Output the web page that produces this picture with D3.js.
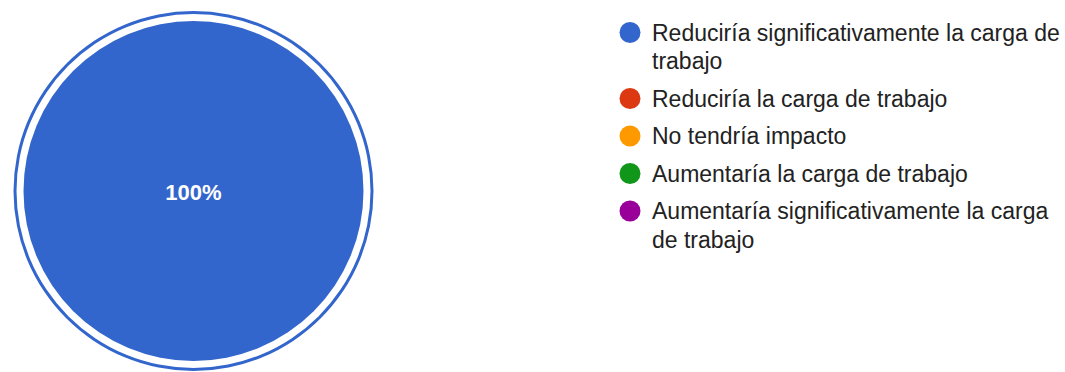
<!DOCTYPE html>
<html>
<head>
<meta charset="utf-8">
<script src="https://cdn.jsdelivr.net/npm/d3@7"></script>
<style>
  html, body { margin: 0; padding: 0; background: #fff; }
  svg { display: block; }
</style>
</head>
<body>
<svg id="chart" width="1065" height="372"></svg>
<script>
// Survey answers and their share of responses (percent)
const categories = [
  "Reduciría significativamente la carga de trabajo",
  "Reduciría la carga de trabajo",
  "No tendría impacto",
  "Aumentaría la carga de trabajo",
  "Aumentaría significativamente la carga de trabajo"
];
const shares = [100, 0, 0, 0, 0];
const palette = ["#3366cc", "#dc3912", "#ff9900", "#109618", "#990099"];

const svg = d3.select("#chart");
const font = "'Liberation Sans', Arial, sans-serif";

// Pie
const cx = 193.5, cy = 191, radius = 170;
const color = d3.scaleOrdinal().domain(categories).range(palette);
const pie = d3.pie().sort(null).value(d => d.value);
const slices = pie(categories.map((c, i) => ({ name: c, value: shares[i] })));
const arc = d3.arc().innerRadius(0).outerRadius(radius);
const ring = d3.arc().innerRadius(radius + 7).outerRadius(radius + 10);

const g = svg.append("g").attr("transform", `translate(${cx},${cy})`);
const shown = slices.filter(s => s.data.value > 0);

g.selectAll("path.slice")
  .data(shown)
  .join("path")
  .attr("class", "slice")
  .attr("d", arc)
  .attr("fill", d => color(d.data.name));

// highlight ring around the largest slice
const biggest = shown.reduce((a, b) => (b.data.value > a.data.value ? b : a));
g.append("path")
  .attr("d", ring(biggest))
  .attr("fill", color(biggest.data.name));

const total = d3.sum(shares);
g.selectAll("text.pct")
  .data(shown)
  .join("text")
  .attr("class", "pct")
  .attr("transform", d => {
    const full = d.endAngle - d.startAngle >= 2 * Math.PI - 1e-6;
    const [x, y] = full ? [0, 0] : d3.arc().innerRadius(0).outerRadius(radius * 1.2).centroid(d);
    return `translate(${x},${y})`;
  })
  .attr("text-anchor", "middle")
  .attr("dy", "0.4em")
  .attr("font-family", font)
  .attr("font-weight", "bold")
  .attr("font-size", 22)
  .attr("fill", "#ffffff")
  .text(d => d3.format(".0%")(d.data.value / total));

// Legend
const legend = svg.append("g").attr("transform", "translate(630,32.5)");
const fontSize = 23, lineH = 28.5, gap = 37.5, textX = 22, maxW = 412;

let yPos = 0;
categories.forEach((name, i) => {
  const item = legend.append("g").attr("transform", `translate(0,${yPos})`);
  item.append("circle").attr("r", 10.5).attr("fill", color(name));
  const text = item.append("text")
    .attr("x", textX)
    .attr("font-family", font)
    .attr("font-size", fontSize)
    .attr("fill", "#222222");
  // word wrap
  const words = name.split(" ");
  let line = [], lines = 0;
  let tspan = text.append("tspan").attr("x", textX).attr("y", 0).attr("dy", "0.36em");
  words.forEach(w => {
    line.push(w);
    tspan.text(line.join(" "));
    if (tspan.node().getComputedTextLength() > maxW && line.length > 1) {
      line.pop();
      tspan.text(line.join(" "));
      line = [w];
      lines++;
      tspan = text.append("tspan").attr("x", textX).attr("y", lines * lineH).attr("dy", "0.36em").text(w);
    }
  });
  yPos += lines * lineH + gap;
});
</script>
</body>
</html>
